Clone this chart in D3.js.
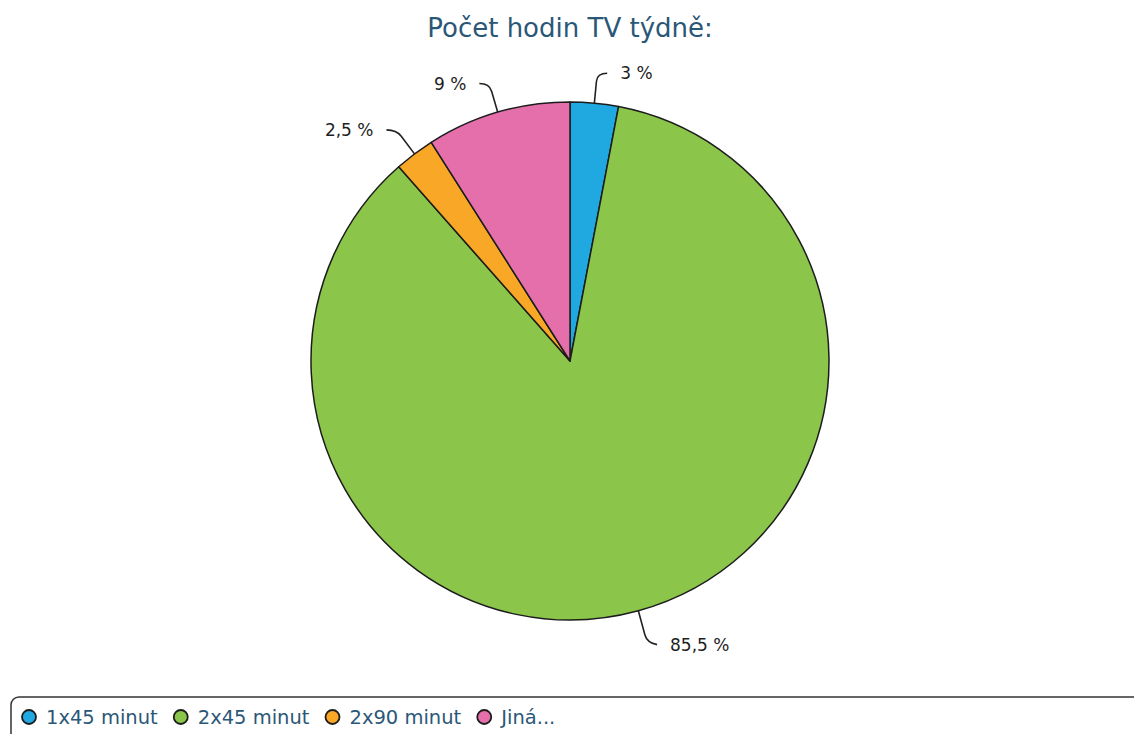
<!DOCTYPE html>
<html>
<head>
<meta charset="utf-8">
<script src="https://cdn.jsdelivr.net/npm/d3@7"></script>
<style>
  html, body { margin: 0; padding: 0; background: #fff; }
  svg { display: block; }
</style>
</head>
<body>
<svg id="chart" width="1134" height="734"></svg>
<script>
// Weekly TV hours survey: share of answers
const categories = ["1x45 minut", "2x45 minut", "2x90 minut", "Jiná..."];
const values = [3, 85.5, 2.5, 9];
const valueLabels = ["3 %", "85,5 %", "2,5 %", "9 %"];
const colors = ["#20a8e1", "#8bc54a", "#f9a727", "#e56faa"];
const title = "Počet hodin TV týdně:";

const svg = d3.select("#chart");
const W = 1134, H = 734;
const cx = 570, cy = 361, radius = 259;
const font = "'DejaVu Sans', 'Open Sans', sans-serif";

svg.append("text")
  .attr("x", cx).attr("y", 37)
  .attr("text-anchor", "middle")
  .attr("font-family", font)
  .attr("font-size", 26)
  .attr("fill", "#2b5777")
  .text(title);

const data = categories.map((c, i) => ({ name: c, value: values[i], label: valueLabels[i], color: colors[i] }));
const pie = d3.pie().value(d => d.value).sort(null);
const arcs = pie(data);
const arc = d3.arc().innerRadius(0).outerRadius(radius);

const g = svg.append("g").attr("transform", `translate(${cx},${cy})`);

g.selectAll("path.slice")
  .data(arcs)
  .join("path")
  .attr("class", "slice")
  .attr("d", arc)
  .attr("fill", d => d.data.color)
  .attr("stroke", "#1c1c1c")
  .attr("stroke-width", 1.5)
  .attr("stroke-linejoin", "round");

// Connector lines with a rounded elbow, then the value label
const polar = (a, r) => [Math.sin(a) * r, -Math.cos(a) * r];
arcs.forEach(d => {
  const a = (d.startAngle + d.endAngle) / 2;
  const side = Math.sin(a) >= 0 ? 1 : -1;
  const down = Math.cos(a) < 0 ? 1 : 0;
  const p0 = polar(a, radius);
  const pa = polar(a, radius + 22 + down * 3);
  const pc = polar(a, radius + 30 + down * 3);
  const p2 = [pc[0] + side * 10, pc[1] + down * 2];
  g.append("path")
    .attr("d", `M${p0[0]},${p0[1]}L${pa[0]},${pa[1]}Q${pc[0]},${pc[1]} ${p2[0]},${p2[1]}`)
    .attr("fill", "none")
    .attr("stroke", "#222")
    .attr("stroke-width", 1.6);
  g.append("text")
    .attr("x", p2[0] + side * 13)
    .attr("y", p2[1])
    .attr("dy", "0.36em")
    .attr("text-anchor", side > 0 ? "start" : "end")
    .attr("font-family", font)
    .attr("font-size", 17)
    .attr("fill", "#1e1e1e")
    .text(d.data.label);
});

// Legend box along the bottom edge
svg.append("rect")
  .attr("x", 11).attr("y", 697)
  .attr("width", W + 20).attr("height", 80)
  .attr("rx", 8)
  .attr("fill", "#fff")
  .attr("stroke", "#333")
  .attr("stroke-width", 1.5);

let lx = 29;
data.forEach(d => {
  const item = svg.append("g");
  item.append("circle")
    .attr("cx", lx).attr("cy", 717).attr("r", 7)
    .attr("fill", d.color)
    .attr("stroke", "#1c1c1c")
    .attr("stroke-width", 1.8);
  const t = item.append("text")
    .attr("x", lx + 17).attr("y", 724)
    .attr("font-family", font)
    .attr("font-size", 19.5)
    .attr("fill", "#2b5777")
    .text(d.name);
  lx += 17 + t.node().getComputedTextLength() + 23;
});
</script>
</body>
</html>
